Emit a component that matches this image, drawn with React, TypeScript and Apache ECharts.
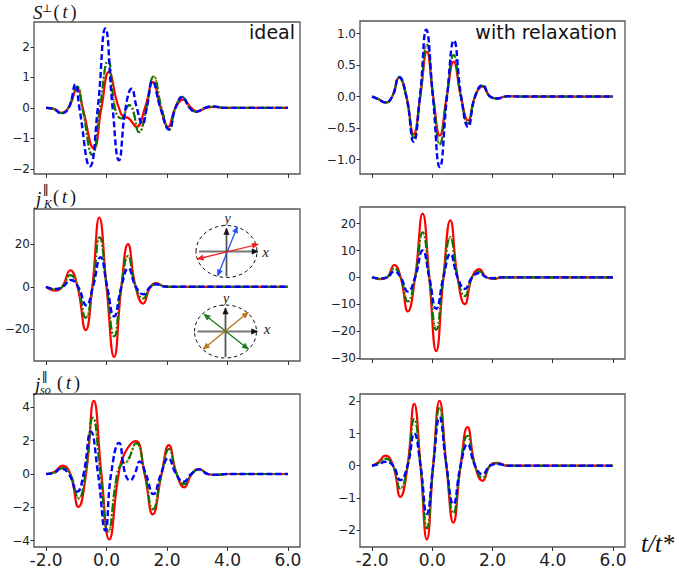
import React, { useEffect, useRef } from "react";
import * as echarts from "echarts";

type Pt = [number, number];

// shared time axis
const tTicks = [-2, 0, 2, 4, 6];
const tTickLabels = ["-2.0", "0.0", "2.0", "4.0", "6.0"];

// y tick positions per panel
const sIdealTicks = [-2, -1, 0, 1, 2];
const sRelaxTicks = [-1, -0.5, 0, 0.5, 1];
const jkIdealTicks = [-20, 0, 20];
const jkRelaxTicks = [-30, -20, -10, 0, 10, 20];
const jsoIdealTicks = [-4, -2, 0, 2, 4];
const jsoRelaxTicks = [-2, -1, 0, 1, 2];

// S⊥(t), ideal
const sIdealRed: Pt[] = [[-2, 0], [-1.75, -0.03], [-1.5, -0.16], [-1.26, 0], [-0.97, 0.63], [-0.79, 0], [-0.42, -1.33], [-0.17, 0], [0.08, 1.18], [0.33, 0.25], [0.41, 0], [0.55, -0.29], [0.72, -0.33], [0.99, -0.62], [1.27, 0], [1.54, 0.85], [1.79, 0], [2.04, -0.62], [2.28, 0], [2.54, 0.27], [2.8, 0], [3.0, -0.11], [3.3, 0], [3.55, 0.03], [3.9, 0], [6, 0]];
const sIdealBlue: Pt[] = [[-2, 0], [-1.75, -0.03], [-1.5, -0.18], [-1.25, 0], [-1.03, 0.77], [-0.9, 0], [-0.55, -1.92], [-0.29, 0], [-0.04, 2.61], [0.2, 0], [0.41, -1.72], [0.63, 0], [0.83, 0.63], [1.0, 0], [1.19, -0.53], [1.33, 0], [1.52, 0.87], [1.78, 0], [2.07, -0.71], [2.28, 0], [2.51, 0.36], [2.75, 0], [2.96, -0.13], [3.25, 0], [3.55, 0.05], [3.9, 0], [6, 0]];
const sIdealGreen: Pt[] = [[-2, 0], [-1.75, -0.03], [-1.5, -0.17], [-1.27, 0], [-0.97, 0.7], [-0.8, 0], [-0.47, -1.55], [-0.22, 0], [0.05, 1.56], [0.3, -0.1], [0.5, -0.35], [0.75, 0.09], [0.85, 0], [1.08, -0.8], [1.32, 0], [1.56, 1.04], [1.82, 0], [2.07, -0.7], [2.28, 0], [2.5, 0.36], [2.75, 0], [2.96, -0.13], [3.25, 0], [3.55, 0.04], [3.9, 0], [6, 0]];
const sIdealBrown: Pt[] = [[-2, 0], [-1.75, -0.03], [-1.5, -0.17], [-1.27, 0], [-0.97, 0.69], [-0.8, 0], [-0.47, -1.53], [-0.22, 0], [0.05, 1.54], [0.3, -0.1], [0.5, -0.34], [0.75, 0.08], [0.85, 0], [1.08, -0.79], [1.32, 0], [1.56, 1.02], [1.82, 0], [2.07, -0.7], [2.28, 0], [2.5, 0.36], [2.75, 0], [2.96, -0.13], [3.25, 0], [3.55, 0.04], [3.9, 0], [6, 0]];

// S⊥(t), with relaxation
const sRelaxRed: Pt[] = [[-2, 0], [-1.8, -0.04], [-1.55, -0.095], [-1.33, 0], [-1.1, 0.3], [-0.86, 0], [-0.62, -0.6], [-0.4, 0], [-0.18, 0.71], [0.03, 0], [0.25, -0.62], [0.48, 0], [0.71, 0.55], [0.95, 0], [1.19, -0.38], [1.42, 0], [1.67, 0.16], [1.92, 0], [2.15, -0.03], [2.5, 0.005], [3, 0], [6, 0]];
const sRelaxBlue: Pt[] = [[-2, 0], [-1.8, -0.04], [-1.55, -0.095], [-1.33, 0], [-1.1, 0.31], [-0.86, 0], [-0.62, -0.72], [-0.41, 0], [-0.2, 1.06], [0.02, 0], [0.25, -1.12], [0.49, 0], [0.72, 0.89], [0.96, 0], [1.19, -0.48], [1.42, 0], [1.67, 0.18], [1.92, 0], [2.15, -0.03], [2.5, 0.005], [3, 0], [6, 0]];
const sRelaxGreen: Pt[] = [[-2, 0], [-1.8, -0.04], [-1.55, -0.095], [-1.33, 0], [-1.1, 0.3], [-0.86, 0], [-0.62, -0.65], [-0.4, 0], [-0.18, 0.83], [0.03, 0], [0.25, -0.76], [0.48, 0], [0.71, 0.66], [0.95, 0], [1.19, -0.43], [1.42, 0], [1.67, 0.17], [1.92, 0], [2.15, -0.03], [2.5, 0.005], [3, 0], [6, 0]];
const sRelaxBrown: Pt[] = [[-2, 0], [-1.8, -0.04], [-1.55, -0.095], [-1.33, 0], [-1.1, 0.3], [-0.86, 0], [-0.62, -0.64], [-0.4, 0], [-0.18, 0.82], [0.03, 0], [0.25, -0.75], [0.48, 0], [0.71, 0.65], [0.95, 0], [1.19, -0.42], [1.42, 0], [1.67, 0.17], [1.92, 0], [2.15, -0.03], [2.5, 0.005], [3, 0], [6, 0]];

// j_K∥(t), ideal
const jkIdealRed: Pt[] = [[-2, 0], [-1.7, -1.8], [-1.47, 0], [-1.2, 7.8], [-0.96, 0], [-0.69, -20.4], [-0.47, 0], [-0.24, 32.6], [0.0, 0], [0.25, -33], [0.49, 0], [0.71, 20.1], [0.96, 0], [1.21, -7.9], [1.45, 0], [1.65, 1.7], [1.9, 0.2], [2.1, 0], [6, 0]];
const jkIdealBlue: Pt[] = [[-2, 0], [-1.7, -1.0], [-1.45, 0], [-1.18, 3.2], [-0.94, 0], [-0.67, -8.7], [-0.45, 0], [-0.2, 13.9], [0.02, 0], [0.25, -13.9], [0.49, 0], [0.72, 8.7], [0.97, 0], [1.22, -3.5], [1.45, 0], [1.65, 1.2], [1.9, 0.2], [2.1, 0], [6, 0]];
const jkIdealGreen: Pt[] = [[-2, 0], [-1.7, -1.2], [-1.46, 0], [-1.2, 5.5], [-0.95, 0], [-0.69, -14.5], [-0.46, 0], [-0.23, 23.3], [0.01, 0], [0.25, -23.3], [0.49, 0], [0.71, 14.5], [0.96, 0], [1.21, -5.5], [1.45, 0], [1.65, 1.3], [1.9, 0.2], [2.1, 0], [6, 0]];
const jkIdealBrown: Pt[] = [[-2, 0], [-1.7, -1.2], [-1.46, 0], [-1.2, 5.4], [-0.95, 0], [-0.69, -14.4], [-0.46, 0], [-0.23, 23.1], [0.01, 0], [0.25, -23.1], [0.49, 0], [0.71, 14.4], [0.96, 0], [1.21, -5.4], [1.45, 0], [1.65, 1.3], [1.9, 0.2], [2.1, 0], [6, 0]];

// j_K∥(t), with relaxation
const jkRelaxRed: Pt[] = [[-2, 0], [-1.72, -0.7], [-1.5, 0], [-1.26, 4.6], [-1.05, 0], [-0.81, -12.7], [-0.57, 0], [-0.32, 23.7], [-0.1, 0], [0.13, -27.5], [0.37, 0], [0.6, 21.2], [0.84, 0], [1.08, -10], [1.32, 0], [1.56, 3.1], [1.8, 0], [2.04, -0.6], [2.3, 0], [6, 0]];
const jkRelaxBlue: Pt[] = [[-2, 0], [-1.72, -0.4], [-1.5, 0], [-1.26, 2.2], [-1.05, 0], [-0.81, -5.3], [-0.57, 0], [-0.32, 10], [-0.1, 0], [0.13, -11.7], [0.37, 0], [0.6, 8.7], [0.84, 0], [1.08, -4.3], [1.32, 0], [1.56, 1.6], [1.8, 0], [2.04, -0.3], [2.3, 0], [6, 0]];
const jkRelaxGreen: Pt[] = [[-2, 0], [-1.72, -0.5], [-1.5, 0], [-1.26, 3.3], [-1.05, 0], [-0.81, -9], [-0.57, 0], [-0.32, 16.8], [-0.1, 0], [0.13, -19.5], [0.37, 0], [0.6, 15], [0.84, 0], [1.08, -7], [1.32, 0], [1.56, 2.3], [1.8, 0], [2.04, -0.4], [2.3, 0], [6, 0]];
const jkRelaxBrown: Pt[] = [[-2, 0], [-1.72, -0.5], [-1.5, 0], [-1.26, 3.2], [-1.05, 0], [-0.81, -8.9], [-0.57, 0], [-0.32, 16.6], [-0.1, 0], [0.13, -19.3], [0.37, 0], [0.6, 14.8], [0.84, 0], [1.08, -6.9], [1.32, 0], [1.56, 2.3], [1.8, 0], [2.04, -0.4], [2.3, 0], [6, 0]];

// j_so∥(t), ideal
const jsoIdealRed: Pt[] = [[-2, 0], [-1.75, 0.1], [-1.45, 0.5], [-1.2, 0], [-0.93, -1.98], [-0.68, 0], [-0.42, 4.4], [-0.17, 0], [0.09, -3.94], [0.4, 0], [0.6, 1.25], [0.96, 1.98], [1.26, 0], [1.53, -2.43], [1.82, 0], [2.06, 1.74], [2.32, 0], [2.57, -0.8], [2.82, 0], [3.07, 0.3], [3.35, 0], [3.64, -0.06], [4, 0], [6, 0]];
const jsoIdealBlue: Pt[] = [[-2, 0], [-1.75, 0.06], [-1.5, 0.32], [-1.25, 0], [-0.97, -1.06], [-0.76, 0], [-0.52, 2.55], [-0.28, 0], [-0.04, -3.4], [0.15, 0], [0.41, 1.87], [0.62, 0], [0.78, -0.39], [0.93, 0], [1.1, 0.75], [1.3, 0], [1.55, -1.21], [1.8, 0], [2.04, 0.95], [2.3, 0], [2.55, -0.47], [2.8, 0], [3.05, 0.28], [3.35, 0], [3.64, -0.05], [4, 0], [6, 0]];
const jsoIdealGreen: Pt[] = [[-2, 0], [-1.75, 0.07], [-1.45, 0.35], [-1.2, 0], [-0.92, -1.47], [-0.7, 0], [-0.45, 3.4], [-0.2, 0], [0.05, -3.48], [0.35, 0], [0.5, 0.6], [0.68, 0.75], [0.98, 1.85], [1.27, 0], [1.53, -2.13], [1.82, 0], [2.07, 1.5], [2.32, 0], [2.57, -0.62], [2.82, 0], [3.07, 0.27], [3.35, 0], [3.64, -0.05], [4, 0], [6, 0]];
const jsoIdealBrown: Pt[] = [[-2, 0], [-1.75, 0.07], [-1.45, 0.35], [-1.2, 0], [-0.92, -1.45], [-0.7, 0], [-0.45, 3.36], [-0.2, 0], [0.05, -3.45], [0.35, 0], [0.5, 0.6], [0.68, 0.75], [0.98, 1.83], [1.27, 0], [1.53, -2.11], [1.82, 0], [2.07, 1.48], [2.32, 0], [2.57, -0.61], [2.82, 0], [3.07, 0.27], [3.35, 0], [3.64, -0.05], [4, 0], [6, 0]];

// j_so∥(t), with relaxation
const jsoRelaxRed: Pt[] = [[-2, 0], [-1.8, 0.1], [-1.56, 0.31], [-1.3, 0], [-1.06, -0.97], [-0.82, 0], [-0.6, 1.92], [-0.39, 0], [-0.18, -2.3], [0.03, 0], [0.24, 2.02], [0.47, 0], [0.7, -1.77], [0.94, 0], [1.17, 1.2], [1.42, 0], [1.67, -0.47], [1.92, 0], [2.17, 0.09], [2.5, 0], [6, 0]];
const jsoRelaxBlue: Pt[] = [[-2, 0], [-1.8, 0.04], [-1.56, 0.12], [-1.3, 0], [-1.06, -0.45], [-0.82, 0], [-0.6, 1.0], [-0.39, 0], [-0.18, -1.5], [0.03, 0], [0.24, 1.5], [0.47, 0], [0.7, -1.2], [0.94, 0], [1.17, 0.67], [1.42, 0], [1.67, -0.27], [1.92, 0], [2.17, 0.05], [2.5, 0], [6, 0]];
const jsoRelaxGreen: Pt[] = [[-2, 0], [-1.8, 0.07], [-1.56, 0.22], [-1.3, 0], [-1.06, -0.72], [-0.82, 0], [-0.6, 1.45], [-0.39, 0], [-0.18, -1.95], [0.03, 0], [0.24, 1.8], [0.47, 0], [0.7, -1.48], [0.94, 0], [1.17, 0.93], [1.42, 0], [1.67, -0.38], [1.92, 0], [2.17, 0.07], [2.5, 0], [6, 0]];
const jsoRelaxBrown: Pt[] = [[-2, 0], [-1.8, 0.07], [-1.56, 0.22], [-1.3, 0], [-1.06, -0.71], [-0.82, 0], [-0.6, 1.43], [-0.39, 0], [-0.18, -1.93], [0.03, 0], [0.24, 1.78], [0.47, 0], [0.7, -1.46], [0.94, 0], [1.17, 0.92], [1.42, 0], [1.67, -0.37], [1.92, 0], [2.17, 0.07], [2.5, 0], [6, 0]];

const RED = "#ff0000";
const BLUE = "#0000ff";
const GREEN = "#007a00";
const BROWN = "#b8730f";

const lineStyles: Record<string, any> = {
  red: { color: RED, width: 2.2, type: "solid" },
  brown: { color: BROWN, width: 2.1, type: [1.5, 2.5] },
  green: { color: GREEN, width: 2.1, type: [8, 2.5, 1.5, 2.5] },
  blue: { color: BLUE, width: 2.4, type: [6, 3] },
};

interface Panel {
  grid: { left: number; top: number; width: number; height: number };
  yMin: number;
  yMax: number;
  yTicks: number[];
  decimals: number;
  xLabels: boolean;
  curves: Record<string, Pt[]>;
}

const panels: Panel[] = [
  { grid: { left: 34, top: 22, width: 266, height: 152 }, yMin: -2.17, yMax: 2.82, yTicks: sIdealTicks, decimals: 0, xLabels: false,
    curves: { red: sIdealRed, brown: sIdealBrown, green: sIdealGreen, blue: sIdealBlue } },
  { grid: { left: 360, top: 21, width: 265, height: 153 }, yMin: -1.23, yMax: 1.2, yTicks: sRelaxTicks, decimals: 1, xLabels: false,
    curves: { red: sRelaxRed, brown: sRelaxBrown, green: sRelaxGreen, blue: sRelaxBlue } },
  { grid: { left: 34, top: 209, width: 266, height: 152 }, yMin: -34.9, yMax: 36.6, yTicks: jkIdealTicks, decimals: 0, xLabels: false,
    curves: { red: jkIdealRed, brown: jkIdealBrown, green: jkIdealGreen, blue: jkIdealBlue } },
  { grid: { left: 360, top: 207, width: 265, height: 152 }, yMin: -30.4, yMax: 26.2, yTicks: jkRelaxTicks, decimals: 0, xLabels: false,
    curves: { red: jkRelaxRed, brown: jkRelaxBrown, green: jkRelaxGreen, blue: jkRelaxBlue } },
  { grid: { left: 34, top: 394, width: 266, height: 153 }, yMin: -4.39, yMax: 4.81, yTicks: jsoIdealTicks, decimals: 0, xLabels: true,
    curves: { red: jsoIdealRed, brown: jsoIdealBrown, green: jsoIdealGreen, blue: jsoIdealBlue } },
  { grid: { left: 360, top: 394, width: 265, height: 153 }, yMin: -2.53, yMax: 2.23, yTicks: jsoRelaxTicks, decimals: 0, xLabels: true,
    curves: { red: jsoRelaxRed, brown: jsoRelaxBrown, green: jsoRelaxGreen, blue: jsoRelaxBlue } },
];

const SANS = "'DejaVu Sans', sans-serif";
const SERIF = "'Liberation Serif', 'DejaVu Serif', serif";

function txt(x: number, y: number, text: string, font: string, align = "left", color = "#111", rich?: any) {
  return {
    type: "text",
    x,
    y,
    silent: true,
    style: { text, font, fill: color, align, verticalAlign: "middle", textAlign: align, textVerticalAlign: "middle", rich },
  };
}

// "(t)" with an upright parenthesis pair and an italic t
const argRich = {
  p: { font: `18px ${SERIF}`, fill: "#111" },
  t: { font: `italic 18px ${SERIF}`, fill: "#111", padding: [0, 3, 0, 3] },
};
const argText = "{p|(}{t|t}{p|)}";

function arrowHead(x1: number, y1: number, x2: number, y2: number, color: string, size = 6) {
  const a = Math.atan2(y2 - y1, x2 - x1);
  const c = Math.cos(a), s = Math.sin(a);
  const w = size * 0.45;
  return {
    type: "polygon",
    silent: true,
    shape: {
      points: [
        [x2, y2],
        [x2 - size * c + w * s, y2 - size * s - w * c],
        [x2 - size * c - w * s, y2 - size * s + w * c],
      ],
    },
    style: { fill: color, stroke: color, lineWidth: 0.5 },
  };
}

function arrow(x1: number, y1: number, x2: number, y2: number, color: string, both: boolean, headColor?: string, width = 1.3) {
  const hc = headColor || color;
  const els: any[] = [
    { type: "line", silent: true, shape: { x1, y1, x2, y2 }, style: { stroke: color, lineWidth: width } },
    arrowHead(x1, y1, x2, y2, hc),
  ];
  if (both) els.push(arrowHead(x2, y2, x1, y1, hc));
  return els;
}

function polarizationInset(cx: number, cy: number, rx: number, ry: number, pairs: { a: number[]; color: string }[], yLab: number[], xLab: number[]) {
  const els: any[] = [
    { type: "ellipse", silent: true, shape: { cx, cy, rx, ry }, style: { fill: "none", stroke: "#111", lineWidth: 1, lineDash: [3.5, 3] } },
    ...arrow(cx - rx + 3, cy, cx + rx + 1, cy, "#777", false, "#111", 1.8),
    ...arrow(cx, cy + ry - 1, cx, cy - ry + 3, "#555", false, "#111", 1.8),
  ];
  pairs.forEach((p) => els.push(...arrow(p.a[0], p.a[1], p.a[2], p.a[3], p.color, true)));
  els.push(txt(yLab[0], yLab[1], "y", `italic 14px ${SERIF}`, "center", "#222"));
  els.push(txt(xLab[0], xLab[1], "x", `italic 15px ${SERIF}`, "center", "#222"));
  return els;
}

function buildOption() {
  const fmtY = (dec: number) => (v: number) => {
    const s = v.toFixed(dec);
    return s.replace("-", "\u2212");
  };

  const grid = panels.map((p) => ({
    ...p.grid,
    show: true,
    borderColor: "#555",
    borderWidth: 1.3,
    backgroundColor: "transparent",
  }));

  const xAxis = panels.map((p, i) => ({
    type: "value",
    gridIndex: i,
    min: -2.4,
    max: 6.4,
    axisLine: { show: false, onZero: false },
    splitLine: { show: false },
    axisTick: { show: true, inside: false, length: 4, customValues: tTicks, lineStyle: { color: "#333", width: 1 } },
    axisLabel: {
      show: p.xLabels,
      customValues: tTicks,
      formatter: (v: number) => {
        const k = tTicks.findIndex((t) => Math.abs(t - v) < 1e-9);
        return k >= 0 ? tTickLabels[k] : "";
      },
      fontSize: 17,
      fontFamily: SANS,
      color: "#222",
      margin: 4,
    },
  }));

  const yAxis = panels.map((p, i) => ({
    type: "value",
    gridIndex: i,
    min: p.yMin,
    max: p.yMax,
    axisLine: { show: false, onZero: false },
    splitLine: { show: false },
    axisTick: { show: true, inside: false, length: 3.5, customValues: p.yTicks, lineStyle: { color: "#333", width: 1 } },
    axisLabel: {
      customValues: p.yTicks,
      formatter: fmtY(p.decimals),
      fontSize: 12,
      fontFamily: SANS,
      color: "#222",
      margin: 4,
    },
  }));

  const order = ["red", "brown", "green", "blue"];
  const series: any[] = [];
  panels.forEach((p, i) => {
    order.forEach((key, k) => {
      series.push({
        type: "line",
        name: `${key}-${i}`,
        xAxisIndex: i,
        yAxisIndex: i,
        data: p.curves[key],
        smooth: 0.5,
        symbol: "none",
        showSymbol: false,
        lineStyle: lineStyles[key],
        z: 2 + k,
      });
    });
  });

  const graphic: any[] = [
    // panel headings
    txt(33, 12, "S", `italic 19px ${SERIF}`),
    txt(42, 7.5, "\u22a5", `11px ${SERIF}`),
    txt(53.5, 12, argText, `18px ${SERIF}`, "left", "#111", argRich),

    txt(36, 198, "j", `italic 19px ${SERIF}`),
    txt(43, 190.5, "\u2225", `13px ${SERIF}`),
    txt(44, 204, "K", `italic 12px ${SERIF}`),
    txt(53, 197, argText, `18px ${SERIF}`, "left", "#111", argRich),

    txt(35, 384, "j", `italic 19px ${SERIF}`),
    txt(42, 377, "\u2225", `13px ${SERIF}`),
    txt(40, 390, "so", `italic 12px ${SERIF}`),
    txt(57, 383, argText, `18px ${SERIF}`, "left", "#111", argRich),

    txt(295, 32, "ideal", `19px ${SANS}`, "right", "#111"),
    txt(617, 32, "with relaxation", `19px ${SANS}`, "right", "#111"),
    txt(641, 543, "t/t*", `italic 25px ${SERIF}`, "left", "#111"),

    // polarization insets
    ...polarizationInset(226.5, 251.5, 30.5, 26,
      [
        { a: [217.7, 275.7, 237.3, 226.7], color: "#2255ee" },
        { a: [197.3, 259, 258.3, 244.3], color: "#ee2222" },
      ],
      [227.5, 218], [265.5, 251.5]),
    ...polarizationInset(225.5, 331.5, 31, 26.5,
      [
        { a: [204, 314.3, 248.3, 349], color: "#1a7a1a" },
        { a: [203.3, 349, 248.3, 312.3], color: "#b8731a" },
      ],
      [226, 298], [267, 329]),
  ];

  return {
    animation: false,
    backgroundColor: "#ffffff",
    grid,
    xAxis,
    yAxis,
    series,
    graphic: { elements: graphic },
  };
}

export default function App() {
  const ref = useRef<HTMLDivElement>(null);
  useEffect(() => {
    if (!ref.current) return;
    const chart = echarts.init(ref.current, undefined, { renderer: "svg" });
    chart.setOption(buildOption() as any);
    return () => chart.dispose();
  }, []);
  return (
    <div
      ref={ref}
      style={{ position: "absolute", left: 0, top: 0, width: 679, height: 574, background: "#fff" }}
    />
  );
}
